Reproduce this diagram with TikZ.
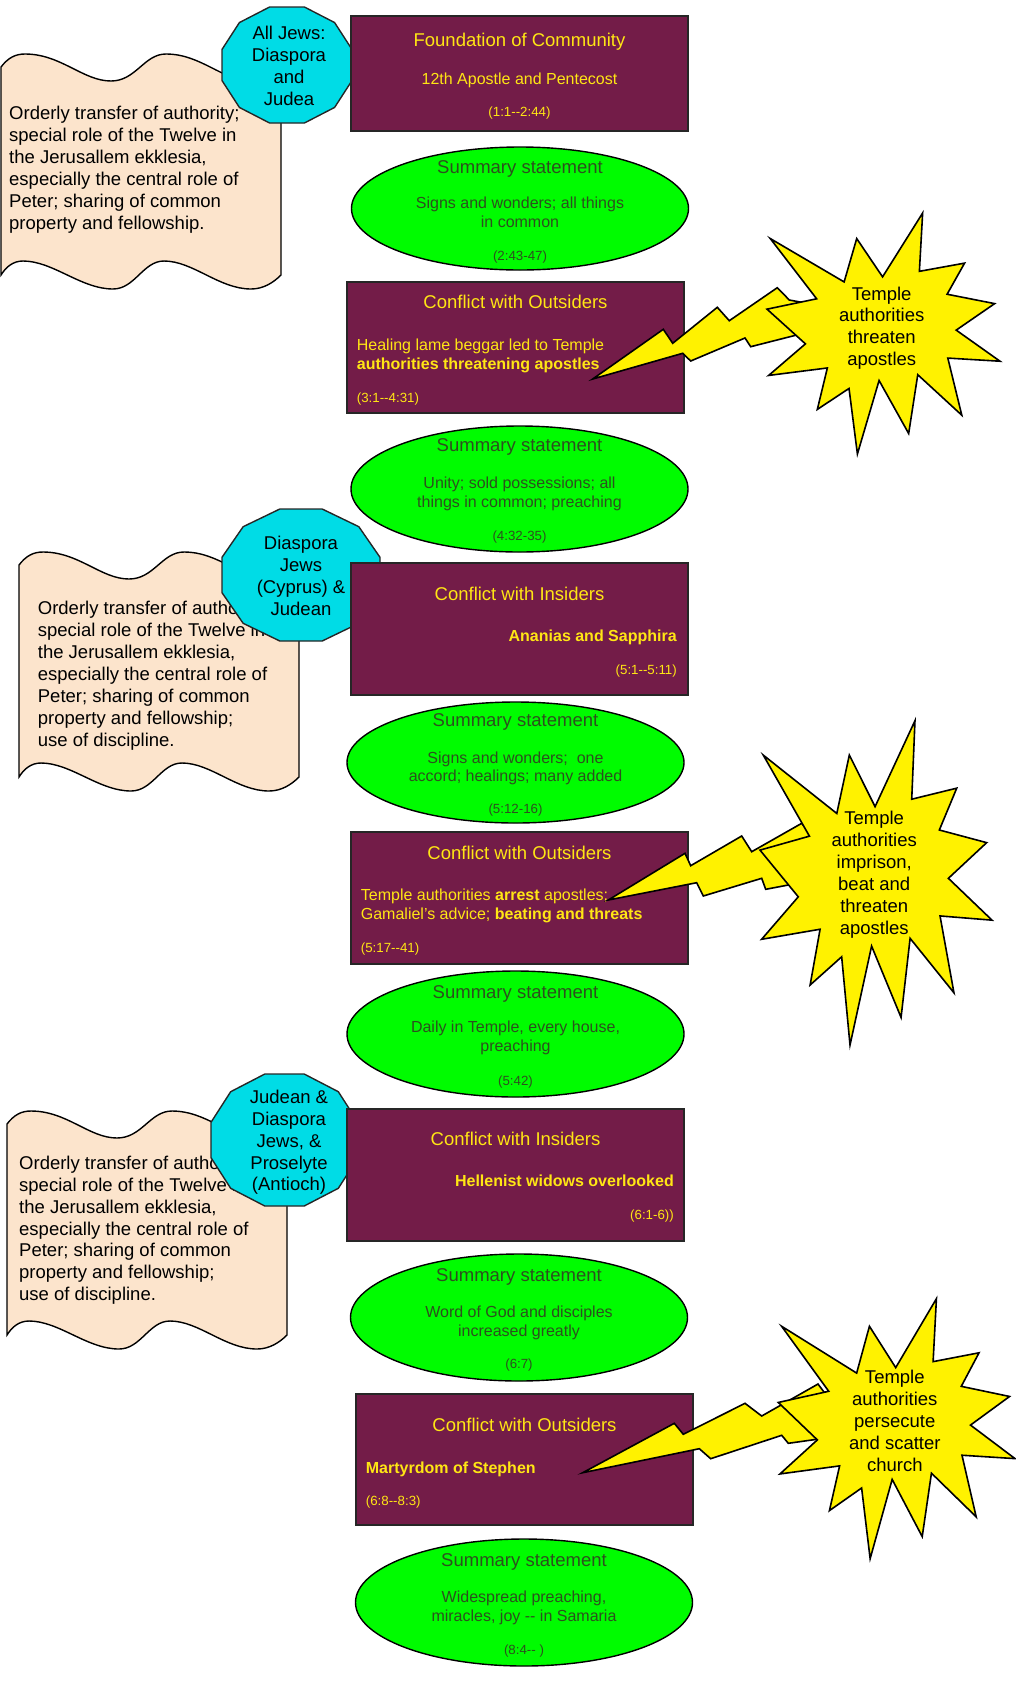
\documentclass[tikz,border=0pt]{standalone}
\usepackage{fontspec}
\setmainfont{Liberation Sans}
\usetikzlibrary{shapes.geometric}
\definecolor{maroon}{RGB}{115,28,72}
\definecolor{gold}{RGB}{255,230,20}
\definecolor{limegreen}{RGB}{0,252,0}
\definecolor{olivetext}{RGB}{45,80,30}
\definecolor{cyanfill}{RGB}{0,220,230}
\definecolor{peach}{RGB}{252,228,204}
\newcommand{\dd}{-\kern0pt-}
\tikzset{
  eventbox/.style={draw=black!85, line width=1.6pt, fill=maroon, minimum width=337pt, inner sep=0pt},
  summary/.style={ellipse, draw=black, line width=1.4pt, fill=limegreen, minimum width=337pt, inner sep=0pt},
  boxtitle/.style={font=\fontsize{18.5}{21.5}\selectfont, text=gold, inner sep=0pt, anchor=base},
  boxbody/.style={font=\fontsize{16}{19}\selectfont, text=gold, inner sep=0pt, align=left, anchor=base west},
  boxref/.style={font=\fontsize{13.3}{15}\selectfont, text=gold, inner sep=0pt, anchor=base},
  sumtitle/.style={font=\fontsize{18.5}{21.5}\selectfont, text=olivetext, inner sep=0pt, anchor=base},
  sumbody/.style={font=\fontsize{16}{18.5}\selectfont, text=olivetext, inner sep=0pt, align=center, anchor=base},
  sumref/.style={font=\fontsize{13.3}{15}\selectfont, text=olivetext, inner sep=0pt, anchor=base},
  wave/.style={draw=black, line width=1.4pt, fill=peach},
  wavetext/.style={font=\fontsize{18.5}{21.9}\selectfont, inner sep=0pt, align=left, anchor=base west},
  region/.style={draw=black!85, line width=1.4pt, fill=cyanfill},
  regiontext/.style={font=\fontsize{18.5}{21.7}\selectfont, inner sep=0pt, align=center, anchor=base},
  bolt/.style={draw=black, line width=1.6pt, fill=yellow},
  burst/.style={draw=black, line width=1.6pt, fill=yellow},
  bursttext/.style={font=\fontsize{18.5}{21.9}\selectfont, inner sep=0pt, align=center, anchor=base}
}
\begin{document}
\begin{tikzpicture}[x=1pt,y=-1pt]
\useasboundingbox (0,0) rectangle (1016,1682);

% wavy panels on the left
\foreach \wx/\wy/\wh in {1/67/208, 19/565/212, 7/1124/211}{
  \begin{scope}[shift={(\wx,\wy)}]
    \filldraw[wave] (0,0) .. controls (7,-9) and (14,-13) .. (24,-13) .. controls (60,-13) and (82,14) .. (110,14) .. controls (135,14) and (143,-13) .. (165,-13) .. controls (200,-13) and (222,14) .. (250,14) .. controls (262,14) and (272,8) .. (280,0) -- (280,\wh) .. controls (272,\wh+8) and (262,\wh+14) .. (250,\wh+14) .. controls (218,\wh+14) and (192,\wh-14) .. (163,\wh-14) .. controls (142,\wh-14) and (134,\wh+14) .. (112,\wh+14) .. controls (80,\wh+14) and (52,\wh-14) .. (22,\wh-14) .. controls (12,\wh-14) and (5,\wh-8) .. (0,\wh) -- cycle;
  \end{scope}}
% text nodes are anchored at the baseline of their last line
\node[wavetext] (panelA) at (9,229) {Orderly transfer of authority;\\special role of the Twelve in\\the Jerusallem ekklesia,\\especially the central role of\\Peter; sharing of common\\property and fellowship.};
\node[wavetext] (panelB) at (37.7,746) {Orderly transfer of authority;\\special role of the Twelve in\\the Jerusallem ekklesia,\\especially the central role of\\Peter; sharing of common\\property and fellowship;\\use of discipline.};
\node[wavetext] (panelC) at (19,1300.7) {Orderly transfer of authority;\\special role of the Twelve in\\the Jerusallem ekklesia,\\especially the central role of\\Peter; sharing of common\\property and fellowship;\\use of discipline.};

% dodecagons
\foreach \ox/\oy/\ow/\oh in {222/7/130/116, 222/509/158/132, 211/1074/147/132}{
  \filldraw[region, shift={(\ox,\oy)}, xscale=\ow, yscale=\oh] (0,.366) -- (.134,.134) -- (.366,0) -- (.634,0) -- (.866,.134) -- (1,.366) -- (1,.634) -- (.866,.866) -- (.634,1) -- (.366,1) -- (.134,.866) -- (0,.634) -- cycle;}
\node[regiontext] (regA) at (289,105) {All Jews:\\Diaspora\\and\\Judea};
\node[regiontext] (regB) at (301,615) {Diaspora\\Jews\\(Cyprus) \&\\Judean};
\node[regiontext] (regC) at (289,1190.7) {Judean \&\\Diaspora\\Jews, \&\\Proselyte\\(Antioch)};

% maroon event boxes
\node[eventbox, minimum height=115pt] (found) at (519.5,73.5) {};
\node[boxtitle] (foundT) at (519.5,46) {Foundation of Community};
\node[boxtitle, font=\fontsize{16}{18}\selectfont] (foundB) at (519.5,84) {12th Apostle and Pentecost};
\node[boxref] (foundR) at (519.5,116) {(1:1\dd2:44)};

\node[eventbox, minimum height=131pt] (outA) at (515.5,347.5) {};
\node[boxtitle] (outAT) at (515.5,308) {Conflict with Outsiders};
\node[boxbody] (outAB) at (356.7,369) {Healing lame beggar led to Temple\\\textbf{authorities threatening apostles}};
\node[boxref, anchor=base west] (outAR) at (356.7,402) {(3:1\dd4:31)};

\node[eventbox, minimum height=132pt] (insA) at (519.5,629) {};
\node[boxtitle] (insAT) at (519.5,600) {Conflict with Insiders};
\node[boxbody, anchor=base east] (insAB) at (677,641.7) {\textbf{Ananias and Sapphira}};
\node[boxref, anchor=base east] (insAR) at (677,674) {(5:1\dd5:11)};

\node[eventbox, minimum height=132pt] (outB) at (519.5,898) {};
\node[boxtitle] (outBT) at (519.5,859) {Conflict with Outsiders};
\node[boxbody] (outBB) at (360.7,919.5) {Temple authorities \textbf{arrest} apostles;\\Gamaliel’s advice; \textbf{beating and threats}};
\node[boxref, anchor=base west] (outBR) at (360.7,952.7) {(5:17\dd41)};

\node[eventbox, minimum height=132pt] (insB) at (515.5,1175) {};
\node[boxtitle] (insBT) at (515.5,1145.5) {Conflict with Insiders};
\node[boxbody, anchor=base east] (insBB) at (674,1186.7) {\textbf{Hellenist widows overlooked}};
\node[boxref, anchor=base east] (insBR) at (674,1219) {(6:1-6))};

\node[eventbox, minimum height=131pt] (outC) at (524.5,1459.5) {};
\node[boxtitle] (outCT) at (524.5,1431) {Conflict with Outsiders};
\node[boxbody] (outCB) at (365.7,1473) {\textbf{Martyrdom of Stephen}};
\node[boxref, anchor=base west] (outCR) at (365.7,1505) {(6:8\dd8:3)};

% green summary ellipses
\node[summary, minimum height=123pt] (sumA) at (520,208.5) {};
\node[sumtitle] (sumAT) at (520,173) {Summary statement};
\node[sumbody] (sumAB) at (520,227) {Signs and wonders; all things\\in common};
\node[sumref] (sumAR) at (520,260) {(2:43-47)};

\node[summary, minimum height=126pt] (sumB) at (519.5,489) {};
\node[sumtitle] (sumBT) at (519.5,451.7) {Summary statement};
\node[sumbody] (sumBB) at (519.5,507) {Unity; sold possessions; all\\things in common; preaching};
\node[sumref] (sumBR) at (519.5,540.7) {(4:32-35)};

\node[summary, minimum height=121pt] (sumC) at (515.5,762.5) {};
\node[sumtitle] (sumCT) at (515.5,726.7) {Summary statement};
\node[sumbody] (sumCB) at (515.5,781.7) {Signs and wonders;\ \ one\\accord; healings; many added};
\node[sumref] (sumCR) at (515.5,813) {(5:12-16)};

\node[summary, minimum height=126pt] (sumD) at (515.5,1034) {};
\node[sumtitle] (sumDT) at (515.5,998) {Summary statement};
\node[sumbody] (sumDB) at (515.5,1051) {Daily in Temple, every house,\\preaching};
\node[sumref] (sumDR) at (515.5,1085) {(5:42)};

\node[summary, minimum height=127pt] (sumE) at (519,1317.5) {};
\node[sumtitle] (sumET) at (519,1281) {Summary statement};
\node[sumbody] (sumEB) at (519,1336) {Word of God and disciples\\increased greatly};
\node[sumref] (sumER) at (519,1368) {(6:7)};

\node[summary, minimum height=127pt] (sumF) at (524,1602.5) {};
\node[sumtitle] (sumFT) at (524,1566) {Summary statement};
\node[sumbody] (sumFB) at (524,1621) {Widespread preaching,\\miracles, joy \dd{} in Samaria};
\node[sumref] (sumFR) at (524,1654) {(8:4\dd{} )};

% lightning bolts
\filldraw[bolt] (592.7,379) -- (663.3,329.3) -- (672.7,343.3) -- (717.3,307.3) -- (729.3,320.7) -- (777.3,287.7) -- (789.3,300) -- (816,305) -- (816,334) -- (796.7,335) -- (750.7,346.7) -- (745,338) -- (690.7,361) -- (682.7,353.3) -- cycle;
\filldraw[bolt] (608.3,900) -- (685,853.3) -- (690.7,865.7) -- (741.7,836) -- (751.7,851.7) -- (801.7,823.3) -- (812,836) -- (812,885) -- (788.3,885) -- (765.7,889.3) -- (761.7,878.3) -- (703.3,896) -- (696.7,882.7) -- cycle;
\filldraw[bolt] (582.7,1472.7) -- (674.3,1423.3) -- (683.3,1434.3) -- (745,1403.3) -- (761.7,1416) -- (818,1384) -- (830,1400) -- (830,1438) -- (816.7,1439.3) -- (788.3,1443.3) -- (781.7,1435.3) -- (710.7,1458.7) -- (699.3,1448.7) -- cycle;

% starbursts
\foreach \sx/\sy/\sw/\sh in {767/213/233/241, 760/720.7/232/324.3, 778.3/1298.7/236.7/260}{
  \filldraw[burst, shift={(\sx,\sy)}, xscale=\sw, yscale=\sh] (0.014,0.106) -- (0.331,0.286) -- (0.385,0.106) -- (0.496,0.265) -- (0.668,0) -- (0.654,0.242) -- (0.848,0.208) -- (0.773,0.337) -- (0.977,0.376) -- (0.812,0.486) -- (1,0.615) -- (0.776,0.602) -- (0.836,0.839) -- (0.647,0.671) -- (0.608,0.915) -- (0.481,0.695) -- (0.388,1) -- (0.352,0.728) -- (0.216,0.815) -- (0.259,0.643) -- (0.007,0.674) -- (0.165,0.543) -- (0,0.399) -- (0.213,0.356) -- cycle;}
\node[bursttext] (burstA) at (881.7,365.7) {Temple\\authorities\\threaten\\apostles};
\node[bursttext] (burstB) at (874.2,934.3) {Temple\\authorities\\imprison,\\beat and\\threaten\\apostles};
\node[bursttext] (burstC) at (894.8,1471) {Temple\\authorities\\persecute\\and scatter\\church};
\end{tikzpicture}
\end{document}
